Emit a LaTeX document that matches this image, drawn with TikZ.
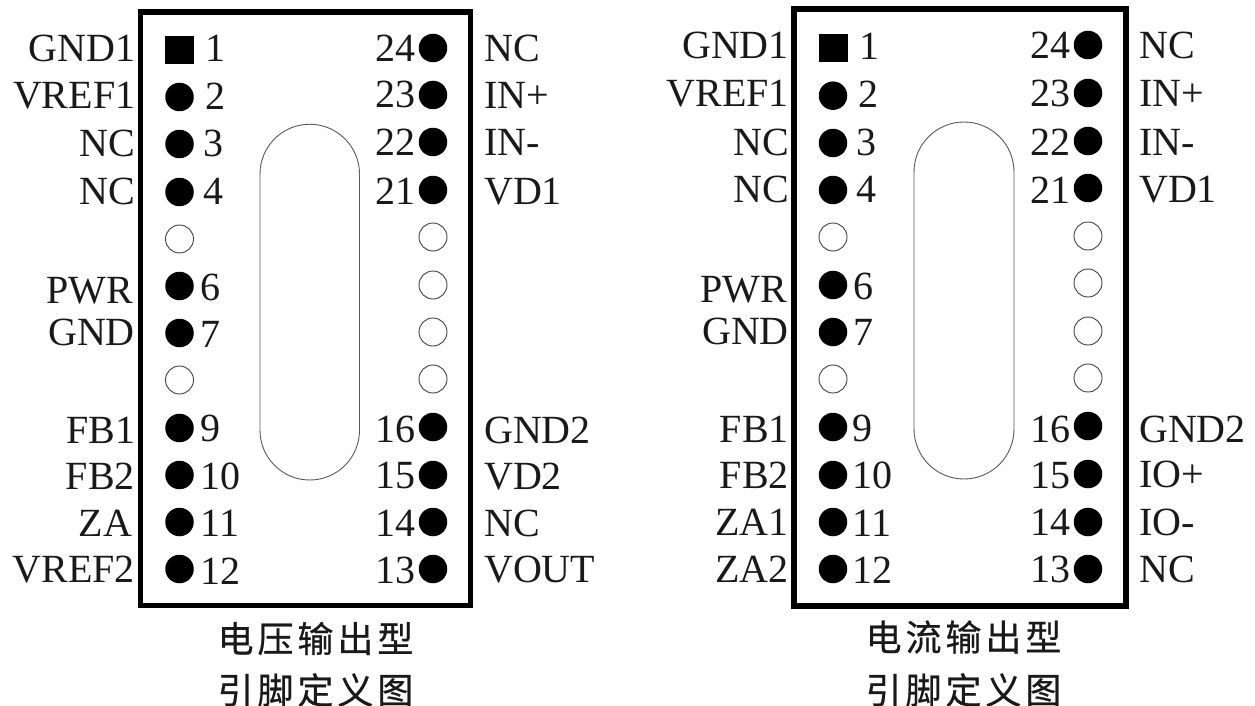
\documentclass[tikz,border=0pt]{standalone}
\usepackage{fontspec}
\setmainfont{Liberation Serif}
\newfontfamily\cjkf[LetterSpace=11,FakeBold=0.6]{Noto Sans CJK SC}
\tikzset{
  x=1pt,y=-1pt,
  body/.style={draw=black,line width=5.5pt,fill=white,line join=miter},
  slot/.style={draw=black!65,line width=0.9pt},
  sq/.style={fill=black,inner sep=0pt,minimum width=29pt,minimum height=28pt,rectangle},
  pinon/.style={circle,fill=black,inner sep=0pt,minimum size=28.5pt},
  pinoff/.style={circle,draw=black!75,line width=0.9pt,fill=white,inner sep=0pt,minimum size=28pt},
  lab/.style={font=\fontsize{40}{40}\selectfont,inner sep=0pt,text=black!90},
  ll/.style={lab,anchor=base east},
  lr/.style={lab,anchor=base west},
  captext/.style={font=\cjkf\fontsize{36}{36}\selectfont,inner sep=0pt,text=black!90,anchor=center}
}
\begin{document}
\begin{tikzpicture}
\useasboundingbox (0,0) rectangle (1255,706);
% ---------- left package
\draw[body] (140.5,12) rectangle (470.5,605.5);
\draw[slot] (260,174) arc[start angle=180,end angle=360,radius=49.75] -- (359.5,430.25) arc[start angle=0,end angle=180,radius=49.75] -- cycle;
\node[sq] (a1) at (179.5,50) {};
\foreach \n/\y in {2/97,3/144,4/192,6/286,7/333,9/428,10/475,11/522,12/569}
  \node[pinon] (a\n) at (179.5,\y) {};
\foreach \n/\y in {5/239,8/380}
  \node[pinoff] (a\n) at (179.5,\y) {};
\foreach \n/\y in {24/48,23/95,22/142,21/190,16/427,15/475,14/522,13/569}
  \node[pinon] (a\n) at (433,\y) {};
\foreach \n/\y in {20/237,19/285,18/332,17/379}
  \node[pinoff] (a\n) at (433,\y) {};
\foreach \n/\t/\y/\x in {1/GND1/62/135.5,2/VREF1/109/135.5,3/NC/157/135,4/NC/204/135,6/PWR/303/133.5,7/GND/345/135,9/FB1/443/135.5,10/FB2/489/135,11/ZA/536/132.5,12/VREF2/582/135}
  \node[ll] (al\n) at (\x,\y) {\t};
\foreach \n/\t/\y in {24/NC/62,23/IN+/109,22/IN-/156,21/VD1/204,16/GND2/443,15/VD2/489,14/NC/536,13/VOUT/582}
  \node[lr] (al\n) at (484,\y) {\t};
\foreach \n/\x/\y in {1/205/62,2/205/110,3/203.5/157,4/203.5/204,6/200.5/300,7/200.5/347,9/200.5/441,10/200.5/489,11/200.5/536,12/200.5/584}
  \node[lr] (an\n) at (\x,\y) {\n};
\foreach \n/\y in {24/62,23/108,22/156,21/204,16/442,15/488,14/536,13/583}
  \node[lr] (an\n) at (375.5,\y) {\n};
\node[captext] (acap1) at (315.5,638.5) {电压输出型};
\node[captext] (acap2) at (315.5,690) {引脚定义图};
% ---------- right package
\draw[body] (794,9) rectangle (1126,606);
\draw[slot] (914,172) arc[start angle=180,end angle=360,radius=50] -- (1014,429) arc[start angle=0,end angle=180,radius=50] -- cycle;
\node[sq] (b1) at (833,48) {};
\foreach \n/\y in {2/95.7,3/143,4/190,6/285,7/332,9/427,10/475,11/522,12/569}
  \node[pinon] (b\n) at (833,\y) {};
\foreach \n/\y in {5/237,8/379}
  \node[pinoff] (b\n) at (833,\y) {};
\foreach \n/\y in {24/45,23/93,22/141,21/188,16/426,15/474,14/522,13/569}
  \node[pinon] (b\n) at (1088,\y) {};
\foreach \n/\y in {20/236,19/283,18/331,17/378}
  \node[pinoff] (b\n) at (1088,\y) {};
\foreach \n/\t/\y/\x in {1/GND1/59/789,2/VREF1/107/789,3/NC/155/789,4/NC/202/789,6/PWR/302/787.5,7/GND/344/789,9/FB1/442/789,10/FB2/488/789,11/ZA1/535/789,12/ZA2/582/789}
  \node[ll] (bl\n) at (\x,\y) {\t};
\foreach \n/\t/\y in {24/NC/59,23/IN+/107,22/IN-/155,21/VD1/202,16/GND2/442,15/IO+/487,14/IO-/535,13/NC/582}
  \node[lr] (bl\n) at (1139,\y) {\t};
\foreach \n/\x/\y in {1/859/60,2/858/108,3/856.5/155,4/856.5/202,6/853.5/299,7/853.5/345,9/852.5/441,10/852.5/488,11/852.5/536,12/852.5/583}
  \node[lr] (bn\n) at (\x,\y) {\n};
\foreach \n/\y in {24/59,23/107,22/155,21/203,16/442,15/488,14/535,13/582}
  \node[lr] (bn\n) at (1030,\y) {\n};
\node[captext] (bcap1) at (963.5,637) {电流输出型};
\node[captext] (bcap2) at (963.5,690) {引脚定义图};
\end{tikzpicture}
\end{document}
